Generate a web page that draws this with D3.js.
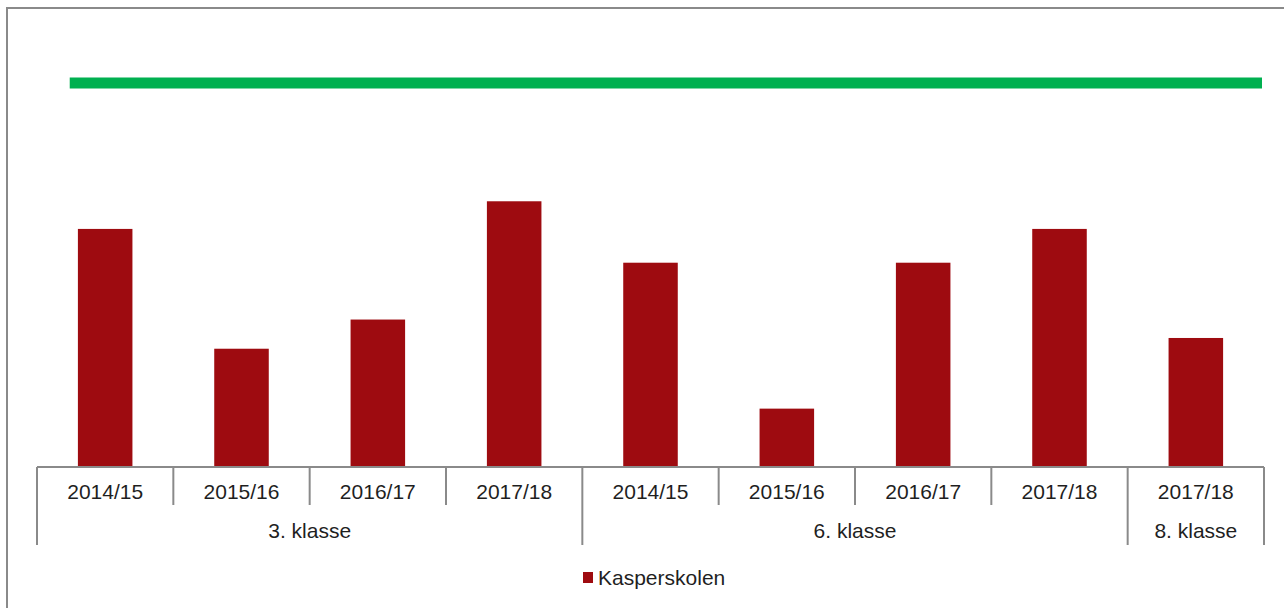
<!DOCTYPE html>
<html>
<head>
<meta charset="utf-8">
<script src="https://cdn.jsdelivr.net/npm/d3@7"></script>
<style>
  html, body { margin: 0; padding: 0; background: #fff; }
  svg { display: block; font-family: "Liberation Sans", Arial, sans-serif; }
  .lbl { fill: #1f1f1f; font-size: 21px; }
</style>
</head>
<body>
<script>
// chart data
var years = ["2014/15", "2015/16", "2016/17", "2017/18", "2014/15", "2015/16", "2016/17", "2017/18", "2017/18"];
var grades = ["3. klasse", "3. klasse", "3. klasse", "3. klasse", "6. klasse", "6. klasse", "6. klasse", "6. klasse", "8. klasse"];
var kasperskolen = [15.5, 7.7, 9.6, 17.3, 13.3, 3.8, 13.3, 15.5, 8.4];
var target = [25];
var seriesName = "Kasperskolen";

var width = 1284, height = 608;

var svg = d3.select("body").append("svg")
    .attr("width", width)
    .attr("height", height);

// outer frame (right and bottom edges fall outside the picture)
svg.append("rect")
    .attr("x", 7).attr("y", 8)
    .attr("width", 1300).attr("height", 640)
    .attr("fill", "#fff")
    .attr("stroke", "#8a8a8a")
    .attr("stroke-width", 2);

var baseY = 467;
var idx = d3.range(years.length);

var x = d3.scaleBand()
    .domain(idx)
    .range([37, 1264])
    .paddingInner(0.6)
    .paddingOuter(0.3);

var y = d3.scaleLinear()
    .domain([0, 25])
    .range([baseY, 83]);

var step = x.step();
var x0 = 37;

// bars
svg.selectAll(".bar")
    .data(kasperskolen)
    .enter().append("rect")
    .attr("class", "bar")
    .attr("x", function(d, i) { return x(i); })
    .attr("width", x.bandwidth())
    .attr("y", function(d) { return y(d); })
    .attr("height", function(d) { return baseY - y(d); })
    .attr("fill", "#9e0b10");

// green target line
svg.append("line")
    .attr("x1", x0 + step * 0.24)
    .attr("x2", x0 + step * years.length - 2)
    .attr("y1", y(target[0]))
    .attr("y2", y(target[0]))
    .attr("stroke", "#00b050")
    .attr("stroke-width", 11);

// category axis
var axis = svg.append("g").attr("stroke", "#8a8a8a").attr("stroke-width", 2);

axis.append("line")
    .attr("x1", x0).attr("x2", x0 + step * years.length)
    .attr("y1", baseY).attr("y2", baseY);

// group boundaries
var groups = [];
grades.forEach(function(g, i) {
    if (!groups.length || groups[groups.length - 1].name !== g) groups.push({ name: g, start: i, end: i + 1 });
    else groups[groups.length - 1].end = i + 1;
});
var groupEdges = [0];
groups.forEach(function(g) { groupEdges.push(g.end); });

d3.range(years.length + 1).forEach(function(i) {
    var long = groupEdges.indexOf(i) >= 0;
    axis.append("line")
        .attr("x1", x0 + step * i).attr("x2", x0 + step * i)
        .attr("y1", baseY).attr("y2", long ? 545 : 505);
});

// year labels
svg.selectAll(".year")
    .data(years)
    .enter().append("text")
    .attr("class", "lbl")
    .attr("x", function(d, i) { return x0 + step * (i + 0.5); })
    .attr("y", 499)
    .attr("text-anchor", "middle")
    .text(function(d) { return d; });

// grade labels
svg.selectAll(".grade")
    .data(groups)
    .enter().append("text")
    .attr("class", "lbl")
    .attr("x", function(d) { return x0 + step * (d.start + d.end) / 2; })
    .attr("y", 538)
    .attr("text-anchor", "middle")
    .text(function(d) { return d.name; });

// legend
var legend = svg.append("g");
legend.append("rect")
    .attr("x", 583).attr("y", 572)
    .attr("width", 10).attr("height", 11)
    .attr("fill", "#9e0b10");
legend.append("text")
    .attr("class", "lbl")
    .attr("x", 598).attr("y", 585)
    .text(seriesName);
</script>
</body>
</html>
